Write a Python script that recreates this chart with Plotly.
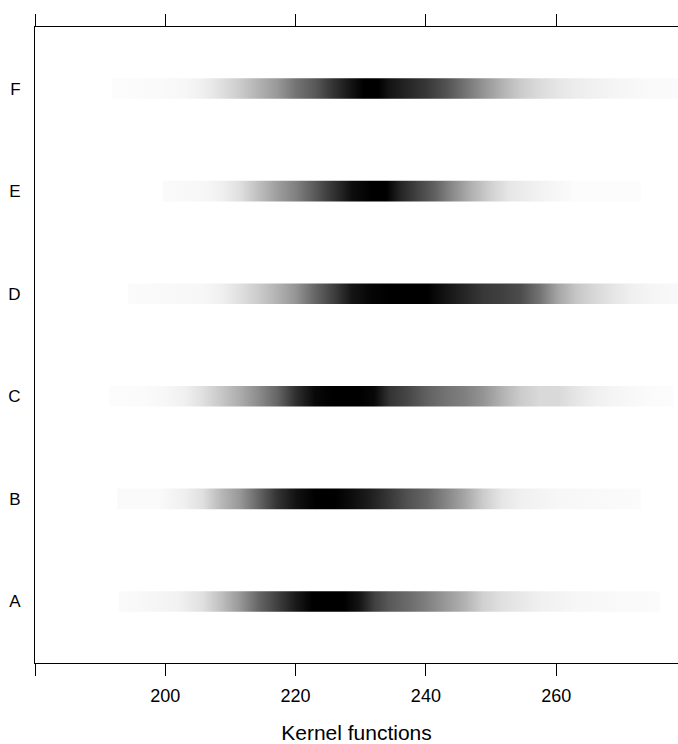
import plotly.graph_objects as go

# Categories (bottom to top)
categories = ["A", "B", "C", "D", "E", "F"]

# Sample positions (x) and darkness (0 = white, 1 = black) read from each strip
a_x = [192.9, 197, 202, 205.7, 208.6, 211.4, 214.3, 217.2, 220.1, 222.5, 227.5, 229.8, 232.1, 234.4, 237.3, 240.2, 243.1, 246, 248.8, 251.7, 257.5, 263.2, 275.9]
a_dark = [0.02, 0.03, 0.05, 0.12, 0.25, 0.4, 0.6, 0.75, 0.9, 1.0, 1.0, 0.92, 0.75, 0.65, 0.58, 0.5, 0.4, 0.3, 0.18, 0.12, 0.06, 0.03, 0.015]

b_x = [192.6, 199, 202.8, 205.7, 208.6, 211.4, 214.3, 217.2, 220.1, 223, 226, 228.7, 231.6, 234.4, 237.3, 240.2, 243.1, 246, 248.8, 251.7, 254.6, 260.3, 273]
b_dark = [0.02, 0.02, 0.06, 0.12, 0.28, 0.4, 0.6, 0.8, 0.93, 1.0, 1.0, 0.95, 0.88, 0.78, 0.68, 0.6, 0.48, 0.35, 0.2, 0.1, 0.06, 0.03, 0.015]

c_x = [191.4, 196.5, 200, 203, 205.7, 208.6, 211.4, 214.3, 217.2, 220.1, 223, 225.8, 229.8, 232.1, 234.4, 237.3, 240.2, 243.1, 246, 248.8, 251.7, 254.6, 257.5, 260.3, 263.2, 266.1, 269, 274.7, 278]
c_dark = [0.01, 0.015, 0.03, 0.06, 0.12, 0.22, 0.32, 0.45, 0.6, 0.82, 0.97, 1.0, 1.0, 0.97, 0.8, 0.72, 0.62, 0.55, 0.5, 0.42, 0.3, 0.2, 0.15, 0.15, 0.1, 0.06, 0.04, 0.015, 0.01]

d_x = [194.3, 205.7, 208.6, 211.4, 214.3, 217.2, 220.1, 223, 225.8, 228.7, 231.6, 234.4, 240.2, 243.1, 246, 248.8, 251.7, 254.6, 257.5, 260.3, 263.2, 266.1, 268.9, 271.8, 274.7, 280]
d_dark = [0.015, 0.03, 0.06, 0.12, 0.2, 0.3, 0.42, 0.6, 0.75, 0.92, 0.98, 1.0, 1.0, 0.92, 0.85, 0.78, 0.75, 0.7, 0.55, 0.35, 0.22, 0.15, 0.1, 0.06, 0.04, 0.02]

e_x = [199.6, 206, 208.6, 211.4, 214.3, 217.2, 220.1, 223, 225.8, 228.7, 231.6, 233.9, 236.2, 238.5, 241.4, 244.2, 247.1, 250, 252.8, 257.5, 262, 262.5, 273]
e_dark = [0.02, 0.03, 0.06, 0.12, 0.25, 0.38, 0.5, 0.65, 0.8, 0.95, 1.0, 1.0, 0.85, 0.75, 0.62, 0.45, 0.3, 0.18, 0.1, 0.05, 0.02, 0.01, 0.01]

f_x = [191.8, 199, 202.8, 205.7, 208.6, 211.4, 214.3, 217.2, 220.1, 223, 225.8, 228.7, 230.4, 232.7, 234.4, 237.3, 240.2, 243.1, 246, 248.8, 251.7, 254.6, 257.5, 260.3, 263.2, 268.9, 274.7, 280]
f_dark = [0.01, 0.02, 0.03, 0.06, 0.12, 0.2, 0.3, 0.4, 0.55, 0.65, 0.8, 0.93, 1.0, 1.0, 0.92, 0.85, 0.78, 0.68, 0.55, 0.42, 0.3, 0.2, 0.14, 0.1, 0.07, 0.04, 0.02, 0.015]

x_tickvals = [180, 200, 220, 240, 260, 280]
x_ticktext = ["", "200", "220", "240", "260", "280"]
x_title = "Kernel functions"

strips = [(a_x, a_dark), (b_x, b_dark), (c_x, c_dark), (d_x, d_dark), (e_x, e_dark), (f_x, f_dark)]

HALF = 0.1
fig = go.Figure()
for i, (xs, ds) in enumerate(strips):
    x0, x1 = xs[0], xs[-1]
    span = x1 - x0
    cs = []
    for x, d in zip(xs, ds):
        g = round(255 * (1 - d))
        cs.append([(x - x0) / span, f"rgb({g},{g},{g})"])
    fig.add_trace(go.Scatter(
        x=[x0, x1, x1, x0, x0],
        y=[i - HALF, i - HALF, i + HALF, i + HALF, i - HALF],
        mode="lines", line=dict(width=0), fill="toself",
        fillgradient=dict(type="horizontal", colorscale=cs),
        hoverinfo="skip", showlegend=False,
    ))

fig.update_layout(
    width=678, height=744,
    margin=dict(l=35, r=0, t=27, b=81),
    plot_bgcolor="white", paper_bgcolor="white",
    font=dict(family="Liberation Sans, Arial, sans-serif", size=17, color="black"),
    showlegend=False,
)
fig.update_xaxes(
    range=[180, 278.7], tickvals=x_tickvals, ticktext=x_ticktext,
    showline=True, linecolor="black", linewidth=1, mirror="ticks",
    ticks="outside", ticklen=12, tickcolor="black", tickwidth=1,
    showgrid=False, zeroline=False, automargin=False,
    tickfont=dict(size=18), ticklabelstandoff=4,
    title=dict(text=x_title, font=dict(size=21), standoff=22),
)
fig.update_yaxes(
    range=[-0.6, 5.6], tickvals=list(range(len(categories))), ticktext=categories,
    showline=True, linecolor="black", linewidth=1, mirror=False,
    ticks="outside", ticklen=10, tickcolor="rgba(0,0,0,0)",
    showgrid=False, zeroline=False, automargin=False,
    tickfont=dict(size=17),
)

fig.write_html(
    "out.html",
    config={"displayModeBar": False},
    post_script="document.body.style.margin='0';document.body.style.overflow='hidden';",
)
